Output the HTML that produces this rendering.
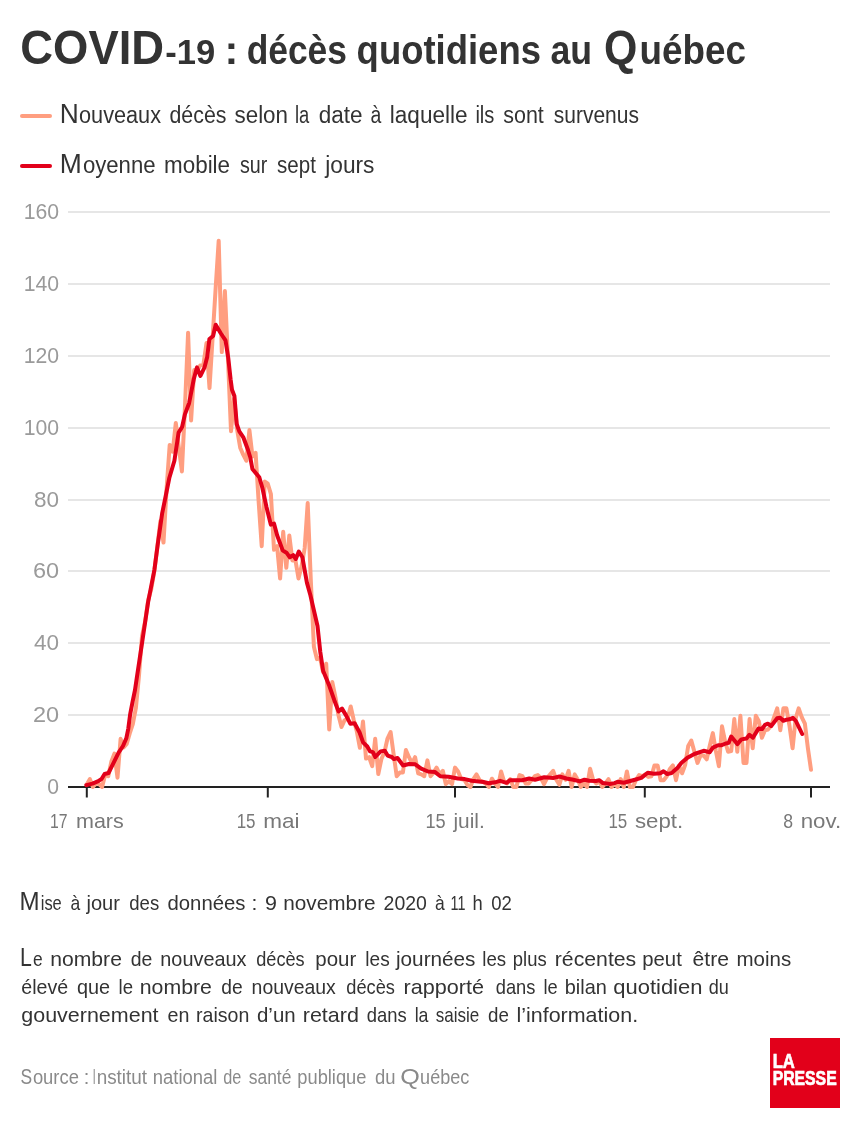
<!DOCTYPE html>
<html lang="fr"><head><meta charset="utf-8"><title>COVID-19 : décès quotidiens au Québec</title>
<style>
html,body{margin:0;padding:0;background:#fff;}
svg{display:block;}
text{font-family:"Liberation Sans",Arial,sans-serif;}
.t{font-weight:bold;fill:#333;font-size:41.5px;}
.lg{fill:#333;font-size:23.5px;}
.p{fill:#333;font-size:21px;}
.s{fill:#8a8a8a;font-size:20px;}
.yl{fill:#9a9a9a;font-size:21.5px;}
.xl{fill:#787878;font-size:21px;}
.logo{fill:#fff;stroke:#fff;stroke-width:0.7px;font-weight:bold;font-size:19.4px;}
</style></head><body>
<svg width="860" height="1140" viewBox="0 0 860 1140">
<rect width="860" height="1140" fill="#ffffff"/>
<text class="t" y="63.50"><tspan x="20.30" textLength="143.77" lengthAdjust="spacingAndGlyphs" font-size="48px">COVID</tspan><tspan x="165.28" textLength="49.95" lengthAdjust="spacingAndGlyphs" font-size="35.5px">-19</tspan> <tspan x="224.50">:</tspan> <tspan x="246.65" textLength="100.27" lengthAdjust="spacingAndGlyphs">décès</tspan> <tspan x="356.62" textLength="184.33" lengthAdjust="spacingAndGlyphs">quotidiens</tspan> <tspan x="550.39" textLength="41.63" lengthAdjust="spacingAndGlyphs">au</tspan> <tspan x="604.11" textLength="33.34" lengthAdjust="spacingAndGlyphs" font-size="48px">Q</tspan><tspan x="639.47" textLength="106.48" lengthAdjust="spacingAndGlyphs">uébec</tspan></text>
<line x1="22" y1="115.9" x2="50" y2="115.9" stroke="#ff9e80" stroke-width="4" stroke-linecap="round"/>
<line x1="22" y1="165.9" x2="50" y2="165.9" stroke="#e2001a" stroke-width="4" stroke-linecap="round"/>
<text class="lg" y="123.00"><tspan x="59.75" textLength="19.01" lengthAdjust="spacingAndGlyphs" font-size="27px">N</tspan><tspan x="79.00" textLength="82.02" lengthAdjust="spacingAndGlyphs">ouveaux</tspan> <tspan x="169.50" textLength="56.93" lengthAdjust="spacingAndGlyphs">décès</tspan> <tspan x="234.50" textLength="53.52" lengthAdjust="spacingAndGlyphs">selon</tspan> <tspan x="294.97" textLength="14.30" lengthAdjust="spacingAndGlyphs">la</tspan> <tspan x="318.75" textLength="43.82" lengthAdjust="spacingAndGlyphs">date</tspan> <tspan x="370.42" textLength="10.81" lengthAdjust="spacingAndGlyphs">à</tspan> <tspan x="389.79" textLength="77.78" lengthAdjust="spacingAndGlyphs">laquelle</tspan> <tspan x="475.39" textLength="19.00" lengthAdjust="spacingAndGlyphs">ils</tspan> <tspan x="503.25" textLength="40.57" lengthAdjust="spacingAndGlyphs">sont</tspan> <tspan x="553.75" textLength="85.17" lengthAdjust="spacingAndGlyphs">survenus</tspan></text>
<text class="lg" y="172.50"><tspan x="59.74" textLength="22.02" lengthAdjust="spacingAndGlyphs" font-size="27px">M</tspan><tspan x="82.90" textLength="72.67" lengthAdjust="spacingAndGlyphs">oyenne</tspan> <tspan x="164.05" textLength="66.02" lengthAdjust="spacingAndGlyphs">mobile</tspan> <tspan x="240.00" textLength="27.35" lengthAdjust="spacingAndGlyphs">sur</tspan> <tspan x="277.00" textLength="38.84" lengthAdjust="spacingAndGlyphs">sept</tspan> <tspan x="325.22" textLength="49.26" lengthAdjust="spacingAndGlyphs">jours</tspan></text>
<rect x="68" y="714" width="762" height="2" fill="#e6e6e6"/>
<rect x="68" y="642" width="762" height="2" fill="#e6e6e6"/>
<rect x="68" y="570" width="762" height="2" fill="#e6e6e6"/>
<rect x="68" y="499" width="762" height="2" fill="#e6e6e6"/>
<rect x="68" y="427" width="762" height="2" fill="#e6e6e6"/>
<rect x="68" y="355" width="762" height="2" fill="#e6e6e6"/>
<rect x="68" y="283" width="762" height="2" fill="#e6e6e6"/>
<rect x="68" y="211" width="762" height="2" fill="#e6e6e6"/>
<text class="yl" y="794.40"><tspan x="47.30" textLength="11.76" lengthAdjust="spacingAndGlyphs">0</tspan></text>
<text class="yl" y="722.40"><tspan x="32.91" textLength="26.15" lengthAdjust="spacingAndGlyphs">20</tspan></text>
<text class="yl" y="650.40"><tspan x="34.00" textLength="25.06" lengthAdjust="spacingAndGlyphs">40</tspan></text>
<text class="yl" y="578.40"><tspan x="32.91" textLength="26.15" lengthAdjust="spacingAndGlyphs">60</tspan></text>
<text class="yl" y="507.40"><tspan x="34.00" textLength="25.06" lengthAdjust="spacingAndGlyphs">80</tspan></text>
<text class="yl" y="435.40"><tspan x="23.66" textLength="35.39" lengthAdjust="spacingAndGlyphs">100</tspan></text>
<text class="yl" y="363.40"><tspan x="23.66" textLength="35.39" lengthAdjust="spacingAndGlyphs">120</tspan></text>
<text class="yl" y="291.40"><tspan x="23.66" textLength="35.39" lengthAdjust="spacingAndGlyphs">140</tspan></text>
<text class="yl" y="219.40"><tspan x="23.66" textLength="35.39" lengthAdjust="spacingAndGlyphs">160</tspan></text>
<rect x="68" y="786" width="762" height="2" fill="#222"/>
<line x1="86.8" x2="86.8" y1="787" y2="797.5" stroke="#222" stroke-width="2"/>
<line x1="267.8" x2="267.8" y1="787" y2="797.5" stroke="#222" stroke-width="2"/>
<line x1="455.0" x2="455.0" y1="787" y2="797.5" stroke="#222" stroke-width="2"/>
<line x1="644.8" x2="644.8" y1="787" y2="797.5" stroke="#222" stroke-width="2"/>
<line x1="811.0" x2="811.0" y1="787" y2="797.5" stroke="#222" stroke-width="2"/>
<text class="xl" y="827.75"><tspan x="50.00" textLength="17.51" lengthAdjust="spacingAndGlyphs">17</tspan> <tspan x="75.98" textLength="47.79" lengthAdjust="spacingAndGlyphs">mars</tspan></text>
<text class="xl" y="827.75"><tspan x="236.69" textLength="18.86" lengthAdjust="spacingAndGlyphs">15</tspan> <tspan x="263.18" textLength="36.29" lengthAdjust="spacingAndGlyphs">mai</tspan></text>
<text class="xl" y="827.75"><tspan x="425.39" textLength="20.20" lengthAdjust="spacingAndGlyphs">15</tspan> <tspan x="453.49" textLength="31.33" lengthAdjust="spacingAndGlyphs">juil.</tspan></text>
<text class="xl" y="827.75"><tspan x="608.44" textLength="18.86" lengthAdjust="spacingAndGlyphs">15</tspan> <tspan x="635.00" textLength="48.19" lengthAdjust="spacingAndGlyphs">sept.</tspan></text>
<text class="xl" y="827.75"><tspan x="783.25" textLength="9.82" lengthAdjust="spacingAndGlyphs">8</tspan> <tspan x="800.69" textLength="40.51" lengthAdjust="spacingAndGlyphs">nov.</tspan></text>
<polyline fill="none" stroke="#ff9e80" stroke-width="4" stroke-linejoin="round" stroke-linecap="round" points="86.8,784.5 89.9,779.1 92.9,787.0 96.0,783.4 99.1,784.1 102.1,787.0 105.2,774.4 108.3,776.2 111.3,761.8 114.4,753.6 117.5,777.7 120.6,738.8 123.6,747.5 126.7,743.9 129.8,733.1 132.8,724.1 135.9,707.9 139.0,675.6 142.0,636.1 145.1,621.7 148.2,600.1 151.2,589.3 154.3,571.4 157.4,546.2 160.4,521.0 163.5,542.6 166.6,488.7 169.7,444.9 172.7,451.7 175.8,422.9 178.9,447.7 181.9,471.4 185.0,406.0 188.1,332.7 191.1,420.4 194.2,370.1 197.3,370.1 200.3,365.4 203.4,364.7 206.5,343.1 209.5,388.1 212.6,337.8 215.7,287.4 218.7,240.7 221.8,352.1 224.9,291.0 228.0,359.3 231.0,431.2 234.1,398.8 237.2,430.1 240.2,447.7 243.3,454.9 246.4,460.7 249.4,430.1 252.5,456.4 255.6,452.8 258.6,500.9 261.7,546.2 264.8,481.5 267.8,483.7 270.9,494.1 274.0,549.8 277.1,546.2 280.1,578.5 283.2,531.8 286.3,567.8 289.3,535.4 292.4,560.6 295.5,560.6 298.5,578.5 301.6,566.0 304.7,548.0 307.7,503.1 310.8,580.0 313.9,646.8 316.9,659.1 320.0,657.6 323.1,672.0 326.2,663.7 329.2,729.5 332.3,682.1 335.4,697.1 338.4,715.1 341.5,727.0 344.6,720.2 347.6,718.7 350.7,706.5 353.8,720.2 356.8,731.3 359.9,747.8 363.0,721.6 366.0,758.6 369.1,757.2 372.2,766.2 375.2,738.8 378.3,774.1 381.4,759.0 384.5,752.0 387.5,738.5 390.6,732.0 393.7,754.7 396.7,776.2 399.8,772.6 402.9,772.6 405.9,750.0 409.0,757.2 412.1,763.3 415.1,757.2 418.2,773.3 421.3,774.4 424.3,776.2 427.4,760.4 430.5,776.2 433.6,772.6 436.6,767.6 439.7,774.4 442.8,770.8 445.8,784.1 448.9,781.2 452.0,784.1 455.0,767.6 458.1,771.5 461.2,779.1 464.2,779.8 467.3,784.8 470.4,787.0 473.4,779.1 476.5,774.4 479.6,780.2 482.6,781.6 485.7,783.4 488.8,787.0 491.9,778.7 494.9,783.4 498.0,787.0 501.1,771.5 504.1,781.6 507.2,783.4 510.3,779.1 513.3,787.0 516.4,787.0 519.5,775.1 522.5,776.2 525.6,783.4 528.7,783.4 531.7,779.8 534.8,776.2 537.9,775.1 541.0,778.0 544.0,784.1 547.1,778.0 550.2,774.4 553.2,770.8 556.3,779.8 559.4,784.8 562.4,774.4 565.5,779.8 568.6,770.8 571.6,787.0 574.7,774.4 577.8,779.8 580.8,787.0 583.9,783.4 587.0,787.0 590.1,768.7 593.1,779.8 596.2,783.4 599.3,781.6 602.3,787.0 605.4,783.4 608.5,779.1 611.5,787.0 614.6,784.1 617.7,787.0 620.7,779.1 623.8,787.0 626.9,771.5 629.9,787.0 633.0,787.0 636.1,779.8 639.1,775.1 642.2,776.2 645.3,774.4 648.4,776.9 651.4,776.2 654.5,765.4 657.6,765.4 660.6,780.2 663.7,780.2 666.8,776.2 669.8,769.0 672.9,765.4 676.0,780.2 679.0,765.8 682.1,773.3 685.2,764.7 688.2,746.0 691.3,740.6 694.4,751.8 697.5,762.9 700.5,755.4 703.6,755.4 706.7,759.3 709.7,746.0 712.8,733.1 715.9,751.1 718.9,766.2 722.0,726.3 725.1,741.4 728.1,751.8 731.2,751.1 734.3,719.1 737.3,751.8 740.4,715.8 743.5,762.9 746.5,762.9 749.6,719.1 752.7,748.2 755.8,715.8 758.8,721.2 761.9,737.8 765.0,730.2 768.0,729.5 771.1,725.9 774.2,716.9 777.2,708.3 780.3,730.2 783.4,708.3 786.4,708.3 789.5,725.9 792.6,748.2 795.6,718.7 798.7,708.3 801.8,717.3 804.9,723.7 807.9,748.2 811.0,769.7"/>
<polyline fill="none" stroke="#e2001a" stroke-width="4" stroke-linejoin="round" stroke-linecap="round" points="86.3,785.1 92.5,783.6 98.3,781.2 101.7,778.8 104.6,774.0 108.5,773.0 113.3,763.4 118.6,752.7 123.0,746.0 126.3,738.3 128.3,728.6 130.2,714.1 132.6,701.6 135.0,690.0 136.8,677.9 142.5,640.0 148.1,602.1 154.4,569.8 157.9,543.2 162.1,513.7 165.5,497.0 169.3,478.0 174.4,460.7 178.6,432.6 182.1,427.0 184.9,414.4 189.1,403.2 193.8,379.0 197.0,367.4 200.4,376.0 204.4,367.7 207.2,356.9 209.4,339.0 213.1,336.0 215.7,324.8 220.6,333.0 225.5,340.4 228.2,357.5 230.6,379.3 232.0,389.7 234.4,396.0 236.7,424.0 239.3,431.4 243.5,437.7 248.0,450.0 250.3,457.5 252.4,469.0 259.3,477.3 262.4,488.0 266.4,506.7 270.8,524.6 274.0,523.6 277.2,535.5 282.8,550.6 286.5,552.7 289.8,557.3 293.2,555.2 295.8,559.0 298.8,551.5 302.4,557.3 306.9,582.6 310.4,595.3 317.5,626.0 320.3,652.0 323.1,670.7 329.4,686.1 334.3,700.2 338.5,711.4 342.0,708.6 346.2,715.6 350.4,723.8 354.6,723.3 359.6,732.5 363.1,742.3 367.3,746.5 370.1,751.4 372.9,752.1 375.3,757.0 380.6,751.4 384.8,750.7 387.6,755.6 391.8,757.0 393.9,759.1 397.5,758.0 403.1,765.5 408.9,764.0 415.3,764.3 421.2,768.6 428.1,771.5 435.1,772.1 440.3,776.2 448.5,776.7 457.8,778.5 464.8,779.1 471.7,780.8 483.4,782.0 488.8,783.3 495.0,782.3 500.1,780.8 506.5,782.8 510.0,780.2 522.2,780.2 529.2,778.5 535.0,779.7 544.3,777.3 553.6,777.9 559.4,776.5 566.4,778.5 573.4,779.7 579.8,781.4 584.5,779.7 589.0,780.8 595.9,781.0 599.4,780.2 602.9,783.1 609.9,784.0 614.5,783.1 618.0,781.7 623.8,782.8 633.1,780.2 641.3,777.9 647.7,772.7 654.1,773.8 660.3,773.3 663.5,771.3 667.3,774.0 671.6,773.1 677.4,767.9 681.5,762.7 687.9,757.4 694.3,754.0 703.6,750.8 709.8,752.2 712.9,747.6 718.1,745.2 721.6,745.2 725.7,743.5 728.6,742.9 731.2,736.5 737.3,744.1 741.4,739.4 746.5,738.5 749.4,734.8 752.9,737.7 758.6,728.4 762.1,729.0 765.0,724.9 767.9,723.7 771.2,726.0 777.2,718.3 780.1,717.7 783.3,720.8 786.5,719.7 789.4,719.3 792.9,717.9 795.8,720.8 802.2,734.0"/>
<text class="p" y="910.00"><tspan x="19.40" textLength="20.09" lengthAdjust="spacingAndGlyphs" font-size="25.4px">M</tspan><tspan x="40.72" textLength="21.07" lengthAdjust="spacingAndGlyphs">ise</tspan> <tspan x="70.50" textLength="9.73" lengthAdjust="spacingAndGlyphs">à</tspan> <tspan x="86.46" textLength="33.54" lengthAdjust="spacingAndGlyphs">jour</tspan> <tspan x="129.25" textLength="29.94" lengthAdjust="spacingAndGlyphs">des</tspan> <tspan x="167.50" textLength="77.98" lengthAdjust="spacingAndGlyphs">données</tspan> <tspan x="251.38">:</tspan> <tspan x="265.00" textLength="11.94" lengthAdjust="spacingAndGlyphs">9</tspan> <tspan x="283.26" textLength="92.41" lengthAdjust="spacingAndGlyphs">novembre</tspan> <tspan x="383.57" textLength="43.31" lengthAdjust="spacingAndGlyphs">2020</tspan> <tspan x="435.00" textLength="9.73" lengthAdjust="spacingAndGlyphs">à</tspan> <tspan x="450.57" textLength="14.90" lengthAdjust="spacingAndGlyphs">11</tspan> <tspan x="472.38" textLength="10.22" lengthAdjust="spacingAndGlyphs">h</tspan> <tspan x="491.25" textLength="20.60" lengthAdjust="spacingAndGlyphs">02</tspan></text>
<text class="p" y="966.00"><tspan x="20.02" textLength="11.83" lengthAdjust="spacingAndGlyphs" font-size="25.4px">L</tspan><tspan x="33.10" textLength="9.66" lengthAdjust="spacingAndGlyphs">e</tspan> <tspan x="50.24" textLength="71.69" lengthAdjust="spacingAndGlyphs">nombre</tspan> <tspan x="130.75" textLength="21.63" lengthAdjust="spacingAndGlyphs">de</tspan> <tspan x="160.30" textLength="86.22" lengthAdjust="spacingAndGlyphs">nouveaux</tspan> <tspan x="256.25" textLength="48.43" lengthAdjust="spacingAndGlyphs">décès</tspan> <tspan x="315.28" textLength="40.97" lengthAdjust="spacingAndGlyphs">pour</tspan> <tspan x="365.34" textLength="24.36" lengthAdjust="spacingAndGlyphs">les</tspan> <tspan x="395.99" textLength="79.51" lengthAdjust="spacingAndGlyphs">journées</tspan> <tspan x="482.36" textLength="23.83" lengthAdjust="spacingAndGlyphs">les</tspan> <tspan x="512.87" textLength="33.82" lengthAdjust="spacingAndGlyphs">plus</tspan> <tspan x="554.74" textLength="81.52" lengthAdjust="spacingAndGlyphs">récentes</tspan> <tspan x="642.28" textLength="39.56" lengthAdjust="spacingAndGlyphs">peut</tspan> <tspan x="692.50" textLength="36.43" lengthAdjust="spacingAndGlyphs">être</tspan> <tspan x="736.52" textLength="54.72" lengthAdjust="spacingAndGlyphs">moins</tspan></text>
<text class="p" y="994.00"><tspan x="21.25" textLength="46.88" lengthAdjust="spacingAndGlyphs">élevé</tspan> <tspan x="77.00" textLength="33.14" lengthAdjust="spacingAndGlyphs">que</tspan> <tspan x="118.61" textLength="14.49" lengthAdjust="spacingAndGlyphs">le</tspan> <tspan x="139.74" textLength="72.20" lengthAdjust="spacingAndGlyphs">nombre</tspan> <tspan x="221.25" textLength="21.37" lengthAdjust="spacingAndGlyphs">de</tspan> <tspan x="251.58" textLength="84.21" lengthAdjust="spacingAndGlyphs">nouveaux</tspan> <tspan x="346.25" textLength="48.68" lengthAdjust="spacingAndGlyphs">décès</tspan> <tspan x="403.47" textLength="80.48" lengthAdjust="spacingAndGlyphs">rapporté</tspan> <tspan x="495.75" textLength="39.69" lengthAdjust="spacingAndGlyphs">dans</tspan> <tspan x="543.38" textLength="14.21" lengthAdjust="spacingAndGlyphs">le</tspan> <tspan x="564.80" textLength="42.09" lengthAdjust="spacingAndGlyphs">bilan</tspan> <tspan x="613.25" textLength="89.21" lengthAdjust="spacingAndGlyphs">quotidien</tspan> <tspan x="708.75" textLength="20.08" lengthAdjust="spacingAndGlyphs">du</tspan></text>
<text class="p" y="1021.50"><tspan x="21.25" textLength="137.33" lengthAdjust="spacingAndGlyphs">gouvernement</tspan> <tspan x="167.50" textLength="21.89" lengthAdjust="spacingAndGlyphs">en</tspan> <tspan x="196.07" textLength="53.32" lengthAdjust="spacingAndGlyphs">raison</tspan> <tspan x="257.00" textLength="38.66" lengthAdjust="spacingAndGlyphs">d’un</tspan> <tspan x="302.73" textLength="56.22" lengthAdjust="spacingAndGlyphs">retard</tspan> <tspan x="366.75" textLength="39.94" lengthAdjust="spacingAndGlyphs">dans</tspan> <tspan x="414.65" textLength="13.82" lengthAdjust="spacingAndGlyphs">la</tspan> <tspan x="435.75" textLength="43.55" lengthAdjust="spacingAndGlyphs">saisie</tspan> <tspan x="488.00" textLength="20.86" lengthAdjust="spacingAndGlyphs">de</tspan> <tspan x="516.48" textLength="121.65" lengthAdjust="spacingAndGlyphs">l’information.</tspan></text>
<text class="s" y="1083.75"><tspan x="20.42" textLength="11.66" lengthAdjust="spacingAndGlyphs" font-size="22.5px">S</tspan><tspan x="32.90" textLength="46.01" lengthAdjust="spacingAndGlyphs">ource</tspan> <tspan x="83.75">:</tspan> <tspan x="92.77" textLength="2.92" lengthAdjust="spacingAndGlyphs" font-size="22.5px">I</tspan><tspan x="96.65" textLength="50.43" lengthAdjust="spacingAndGlyphs">nstitut</tspan> <tspan x="152.83" textLength="64.58" lengthAdjust="spacingAndGlyphs">national</tspan> <tspan x="223.25" textLength="18.10" lengthAdjust="spacingAndGlyphs">de</tspan> <tspan x="248.75" textLength="42.61" lengthAdjust="spacingAndGlyphs">santé</tspan> <tspan x="297.34" textLength="69.03" lengthAdjust="spacingAndGlyphs">publique</tspan> <tspan x="375.00" textLength="20.54" lengthAdjust="spacingAndGlyphs">du</tspan> <tspan x="400.38" textLength="19.58" lengthAdjust="spacingAndGlyphs" font-size="22.5px">Q</tspan><tspan x="420.10" textLength="49.20" lengthAdjust="spacingAndGlyphs">uébec</tspan></text>
<rect x="770" y="1038" width="70" height="70" fill="#e2001a"/>
<text class="logo" y="1067.90"><tspan x="772.64" textLength="22.16" lengthAdjust="spacingAndGlyphs">LA</tspan></text>
<text class="logo" y="1084.90"><tspan x="772.69" textLength="63.96" lengthAdjust="spacingAndGlyphs">PRESSE</tspan></text>
</svg>
</body></html>
